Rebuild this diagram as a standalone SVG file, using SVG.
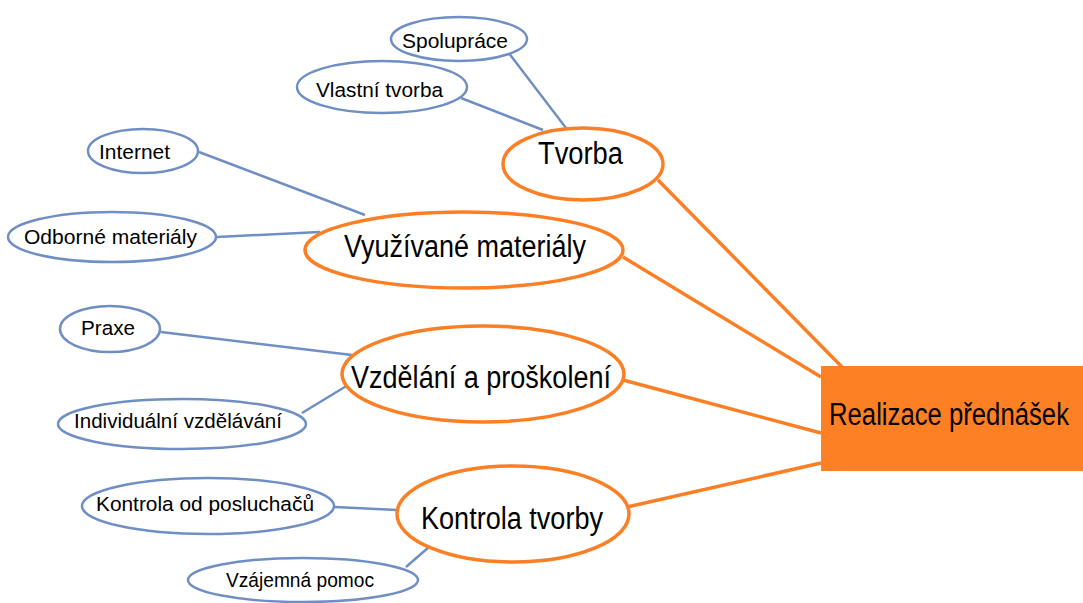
<svg xmlns="http://www.w3.org/2000/svg" width="1083" height="603" viewBox="0 0 1083 603">
<style>
.sub{fill:#fff;stroke:#6f8fc4;stroke-width:2.5}
.main{fill:#fff;stroke:#fc7f25;stroke-width:3.5}
.bl{stroke:#6f8fc4;stroke-width:2.5;fill:none}
.ol{stroke:#fc7f25;stroke-width:3.5;fill:none}
.st{font-family:"Liberation Sans",Arial,sans-serif;font-size:20.5px;fill:#000}
.bt{font-family:"Liberation Sans",Arial,sans-serif;font-size:31px;fill:#000}
</style>
<rect width="1083" height="603" fill="#fff"/>
<g id="connectors">
<line class="bl" x1="508" y1="52" x2="566" y2="128"/>
<line class="bl" x1="461" y1="98" x2="543" y2="130"/>
<line class="bl" x1="199" y1="152" x2="365" y2="215"/>
<line class="bl" x1="217" y1="237" x2="320" y2="232"/>
<line class="bl" x1="161" y1="332" x2="352" y2="355"/>
<line class="bl" x1="302" y1="413" x2="348" y2="385"/>
<line class="bl" x1="335" y1="507" x2="397" y2="510"/>
<line class="bl" x1="406" y1="567" x2="429" y2="547"/>
<line class="ol" x1="658" y1="180" x2="842" y2="367"/>
<line class="ol" x1="623" y1="257" x2="821" y2="377"/>
<line class="ol" x1="623" y1="380" x2="821" y2="433"/>
<line class="ol" x1="627" y1="507" x2="821" y2="463"/>
</g>
<g id="realizace">
<rect x="821" y="366" width="262" height="105" fill="#fe8025"/>
<text class="bt" x="829" y="425" textLength="240" lengthAdjust="spacingAndGlyphs">Realizace přednášek</text>
</g>
<g id="tvorba">
<ellipse class="main" cx="583" cy="164" rx="80" ry="36"/>
<text class="bt" x="538" y="164" textLength="85" lengthAdjust="spacingAndGlyphs">Tvorba</text>
</g>
<g id="vyuzivane">
<ellipse class="main" cx="464" cy="250" rx="159" ry="38"/>
<text class="bt" x="344" y="257" textLength="242" lengthAdjust="spacingAndGlyphs">Využívané materiály</text>
</g>
<g id="vzdelani">
<ellipse class="main" cx="483" cy="374" rx="141" ry="48"/>
<text class="bt" x="351" y="388" textLength="260" lengthAdjust="spacingAndGlyphs">Vzdělání a proškolení</text>
</g>
<g id="kontrola">
<ellipse class="main" cx="513" cy="514" rx="116" ry="48"/>
<text class="bt" x="421" y="529" textLength="182" lengthAdjust="spacingAndGlyphs">Kontrola tvorby</text>
</g>
<g id="spoluprace">
<ellipse class="sub" cx="459" cy="39" rx="68" ry="22"/>
<text class="st" x="402" y="48" textLength="106" lengthAdjust="spacingAndGlyphs">Spolupráce</text>
</g>
<g id="vlastni">
<ellipse class="sub" cx="382" cy="87" rx="85" ry="26"/>
<text class="st" x="316" y="97" textLength="127" lengthAdjust="spacingAndGlyphs">Vlastní tvorba</text>
</g>
<g id="internet">
<ellipse class="sub" cx="143" cy="151" rx="55" ry="22"/>
<text class="st" x="99" y="159" textLength="71" lengthAdjust="spacingAndGlyphs">Internet</text>
</g>
<g id="odborne">
<ellipse class="sub" cx="112" cy="237" rx="104" ry="25"/>
<text class="st" x="24" y="244" textLength="173" lengthAdjust="spacingAndGlyphs">Odborné materiály</text>
</g>
<g id="praxe">
<ellipse class="sub" cx="110" cy="329" rx="50" ry="23"/>
<text class="st" x="81" y="335" textLength="54" lengthAdjust="spacingAndGlyphs">Praxe</text>
</g>
<g id="individualni">
<ellipse class="sub" cx="182" cy="424" rx="124" ry="25"/>
<text class="st" x="74" y="428" textLength="208" lengthAdjust="spacingAndGlyphs">Individuální vzdělávání</text>
</g>
<g id="posluchacu">
<ellipse class="sub" cx="208" cy="506" rx="126" ry="28"/>
<text class="st" x="96" y="511" textLength="218" lengthAdjust="spacingAndGlyphs">Kontrola od posluchačů</text>
</g>
<g id="vzajemna">
<ellipse class="sub" cx="303" cy="580" rx="115" ry="22"/>
<text class="st" x="226" y="587" textLength="148" lengthAdjust="spacingAndGlyphs">Vzájemná pomoc</text>
</g>
</svg>
